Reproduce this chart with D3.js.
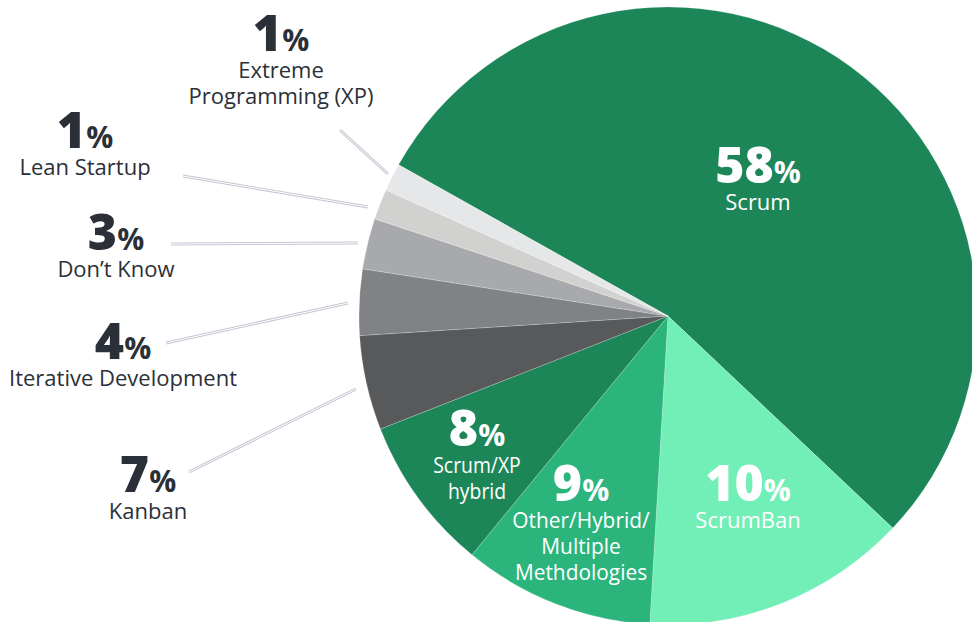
<!DOCTYPE html>
<html>
<head>
<meta charset="utf-8">
<script src="https://cdn.jsdelivr.net/npm/d3@7"></script>
<style>
  html, body { margin: 0; padding: 0; background: #ffffff; }
  svg { display: block; }
</style>
</head>
<body>
<svg id="chart" width="972" height="622"></svg>
<script>
// ---- data ----
const categories = ["Scrum", "ScrumBan", "Other/Hybrid/Multiple Methdologies", "Scrum/XP hybrid",
  "Kanban", "Iterative Development", "Don\u2019t Know", "Lean Startup", "Extreme Programming (XP)"];
// slice sizes as drawn in the picture (share of the full circle, %)
const sliceValues = [53.9, 13.9, 10.0, 8.1, 4.95, 3.45, 2.65, 1.6, 1.45];
// printed percentage labels
const labelPercents = [58, 10, 9, 8, 7, 4, 3, 1, 1];
const labelLines = [["Scrum"], ["ScrumBan"], ["Other/Hybrid/", "Multiple", "Methdologies"], ["Scrum/XP", "hybrid"],
  ["Kanban"], ["Iterative Development"], ["Don\u2019t Know"], ["Lean Startup"], ["Extreme", "Programming (XP)"]];
const sliceColors = ["#1c8659", "#72efb6", "#2cb47d", "#1c8659", "#58595b", "#808285", "#a7a9ac", "#d1d2d0", "#e6e7e8"];
const insideLabel = [true, true, true, true, false, false, false, false, false];

// ---- layout ----
const cx = 668, cy = 316, R = 309;
const startDeg = -60.7;
const svg = d3.select("#chart");
const g = svg.append("g").attr("transform", `translate(${cx},${cy})`);

const data = categories.map((c, i) => ({ name: c, value: sliceValues[i], pct: labelPercents[i],
  lines: labelLines[i], color: sliceColors[i], inside: insideLabel[i], idx: i }));

const pie = d3.pie().value(d => d.value).sort(null)
  .startAngle(startDeg * Math.PI / 180)
  .endAngle(startDeg * Math.PI / 180 + 2 * Math.PI);
const arcs = pie(data);
const arc = d3.arc().innerRadius(0).outerRadius(R);

g.selectAll("path.slice").data(arcs).join("path")
  .attr("class", "slice")
  .attr("d", arc)
  .attr("fill", d => d.data.color)
  .attr("stroke", "rgba(255,255,255,0.35)")
  .attr("stroke-width", 0.6);

// label anchor positions (label centre x, baseline of percentage)
const labelPos = {
  0: [758, 183], 1: [748, 501], 2: [581, 501], 3: [477, 446],
  4: [148, 492], 5: [123, 359], 6: [116, 250], 7: [85, 148], 8: [281, 51]
};
// horizontal compression of description text for the narrow inner labels
const labelScaleX = { 2: 0.95, 3: 0.88 };
// leader lines for outside labels: [outer point, pie-side point]
const leaders = {
  4: [[189, 472], [356, 389]],
  5: [[166, 343], [348, 303]],
  6: [[171, 244], [358, 243]],
  7: [[183, 176], [368, 207]],
  8: [[340, 130], [388, 174]]
};

const lineGen = d3.line();
Object.keys(leaders).forEach(k => {
  const pts = leaders[k];
  svg.append("path").attr("d", lineGen(pts)).attr("stroke", "#c3c7d2")
    .attr("stroke-width", 3).attr("fill", "none");
  svg.append("path").attr("d", lineGen(pts)).attr("stroke", "#ffffff")
    .attr("stroke-width", 1).attr("fill", "none");
});

const font = "'Open Sans', 'Noto Sans', sans-serif";
data.forEach((d, i) => {
  const [x, y] = labelPos[i];
  const col = d.inside ? "#ffffff" : "#2b2f38";
  const t = svg.append("text").attr("x", x).attr("y", y)
    .attr("text-anchor", "middle").attr("font-family", font).attr("fill", col);
  t.append("tspan").attr("font-size", 50).attr("font-weight", 800).text(d.pct);
  t.append("tspan").attr("font-size", 30).attr("font-weight", 700).text("%");
  const sx = labelScaleX[i] || 1;
  const sub = svg.append("g").attr("transform", `translate(${x},0) scale(${sx},1)`);
  d.lines.forEach((ln, j) => {
    sub.append("text").attr("x", 0).attr("y", y + 27 + j * 26)
      .attr("text-anchor", "middle").attr("font-family", font)
      .attr("font-size", 22).attr("font-weight", 400)
      .attr("fill", col).text(ln);
  });
});
</script>
</body>
</html>
